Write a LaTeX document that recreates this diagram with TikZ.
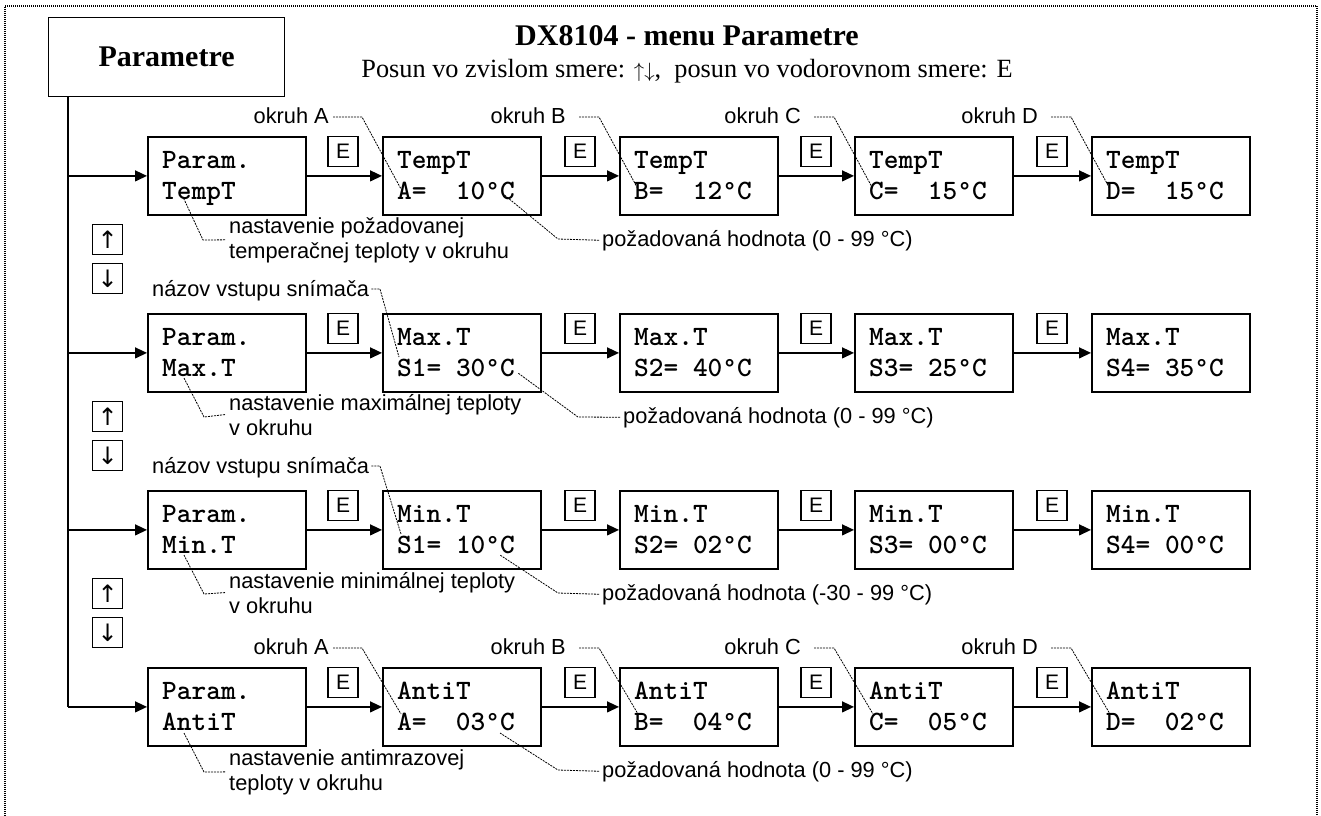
\documentclass[tikz,border=0pt]{standalone}
\usepackage{fontspec}
\setmainfont{Liberation Serif}
\setsansfont{Liberation Sans}
\newfontfamily\scrfont{lmmonolt10-bold.otf}
\newfontfamily\degfont{Liberation Mono}[BoldFont={Liberation Mono Bold}]
\newfontfamily\arrfont{DejaVu Sans}
\newcommand\dg{{\degfont\bfseries\fontsize{24.5}{30}\selectfont °}}
\usetikzlibrary{arrows.meta,calc}
\newcommand\scrbox[5]{%
  \node[scr] (#1) at (#2,#3) {};
  \node[scrtxt] (#1a) at ($(#1.north west)+(15,32)$) {#4};
  \node[scrtxt] (#1b) at ($(#1.north west)+(15,63)$) {#5};
}
\begin{document}
\begin{tikzpicture}[x=1pt,y=-1pt,
  scr/.style={draw,line width=1.8pt,minimum width=158pt,minimum height=78pt,inner sep=0pt,anchor=north west},
  scrtxt/.style={anchor=base west,inner sep=0pt,font=\scrfont\fontsize{28}{30}\selectfont},
  key/.style={draw,line width=1.2pt,minimum size=30pt,inner sep=0pt,font=\sffamily\fontsize{21}{24}\selectfont},
  arrkey/.style={key,font=\arrfont\fontsize{24}{26}\selectfont},
  conn/.style={line width=1.3pt,-{Triangle[length=12pt,width=11pt]}},
  ann/.style={inner sep=0pt,font=\sffamily\fontsize{21.8}{25}\selectfont},
  lead/.style={line width=0.8pt,dash pattern=on 2pt off 1pt},
]
\useasboundingbox (0,0) rectangle (1321,815);
% outer dotted frame
\draw[line width=1.6pt,dash pattern=on 1pt off 1pt] (5,840) -- (5,6) -- (1317,6) -- (1317,840);

% header
\node[draw,line width=1.2pt,minimum width=236pt,minimum height=79pt,anchor=north west,inner sep=0pt,
      font=\rmfamily\bfseries\fontsize{30}{34}\selectfont] (param) at (48,17) {Parametre};
\node[anchor=base,inner sep=0pt,font=\rmfamily\bfseries\fontsize{30}{34}\selectfont] (title) at (687,45) {DX8104 - menu Parametre};
\node[anchor=base,inner sep=0pt,font=\rmfamily\fontsize{26.3}{30}\selectfont] (sub) at (687,77) {Posun vo zvislom smere: {\fontsize{22}{24}\selectfont$\uparrow\downarrow$},\ \ posun vo vodorovnom smere: E};

% screens
\scrbox{b11}{147}{136}{Param.}{TempT}
\scrbox{b12}{382}{136}{TempT}{A=\ \ 10\dg C}
\scrbox{b13}{619}{136}{TempT}{B=\ \ 12\dg C}
\scrbox{b14}{854}{136}{TempT}{C=\ \ 15\dg C}
\scrbox{b15}{1091}{136}{TempT}{D=\ \ 15\dg C}

\scrbox{b21}{147}{313}{Param.}{Max.T}
\scrbox{b22}{382}{313}{Max.T}{S1= 30\dg C}
\scrbox{b23}{619}{313}{Max.T}{S2= 40\dg C}
\scrbox{b24}{854}{313}{Max.T}{S3= 25\dg C}
\scrbox{b25}{1091}{313}{Max.T}{S4= 35\dg C}

\scrbox{b31}{147}{490}{Param.}{Min.T}
\scrbox{b32}{382}{490}{Min.T}{S1= 10\dg C}
\scrbox{b33}{619}{490}{Min.T}{S2= 02\dg C}
\scrbox{b34}{854}{490}{Min.T}{S3= 00\dg C}
\scrbox{b35}{1091}{490}{Min.T}{S4= 00\dg C}

\scrbox{b41}{147}{667}{Param.}{AntiT}
\scrbox{b42}{382}{667}{AntiT}{A=\ \ 03\dg C}
\scrbox{b43}{619}{667}{AntiT}{B=\ \ 04\dg C}
\scrbox{b44}{854}{667}{AntiT}{C=\ \ 05\dg C}
\scrbox{b45}{1091}{667}{AntiT}{D=\ \ 02\dg C}

% E keys and arrows between screens
\foreach \r/\t in {1/136,2/313,3/490,4/667}{
  \foreach \k/\n/\xe in {1/2/343,2/3/580,3/4/816,4/5/1052}{
    \node[key,anchor=north] (e\r\k) at (\xe,\t) {E};
    \draw[conn] (b\r\k.east) -- (b\r\n.west);
  }
}

% trunk from Parametre
\coordinate (trunk) at ($(param.south west)+(20,0)$);
\draw[line width=1.5pt] (trunk) -- (trunk |- b41.west);
\draw[conn] (trunk |- b41.west) -- (b41.west);
\draw[conn] (trunk |- b11.west) -- (b11.west);
\draw[conn] (trunk |- b21.west) -- (b21.west);
\draw[conn] (trunk |- b31.west) -- (b31.west);

% up/down keys
\node[arrkey,anchor=north west] (u1) at (92,224) {↑};
\node[arrkey,anchor=north west] (d1) at (92,263) {↓};
\node[arrkey,anchor=north west] (u2) at (92,401) {↑};
\node[arrkey,anchor=north west] (d2) at (92,440) {↓};
\node[arrkey,anchor=north west] (u3) at (92,578) {↑};
\node[arrkey,anchor=north west] (d3) at (92,617) {↓};

% okruh labels, rows 1 and 4
\foreach \r/\t/\dy in {1/136/53,4/667/47}{
  \foreach \k/\x/\L/\g in {2/382/A/4,3/619/B/13,4/854/C/13,5/1091/D/13}{
    \node[ann,anchor=base east] (ok\r\k) at (\x-53,\t-13) {okruh \L};
    \draw[lead] ($(ok\r\k.base east)+(\g,-6)$) -- (\x-20,\t-19) -- (\x+19,\t+\dy);
  }
}

% row 1 annotations
\node[ann,anchor=base west,align=left] (n1) at (229,258) {nastavenie požadovanej\\temperačnej teploty v okruhu};
\draw[lead] ($(n1.west)+(-4,0)$) -- (203,240) -- (183,197);
\node[ann,anchor=base west] (p1) at (602,246) {požadovaná hodnota (0 - 99 °C)};
\draw[lead] ($(p1.west)+(-3,0)$) -- (558,239) -- (502,193);

% row 2 annotations
\node[ann,anchor=base west] (s2) at (152,296) {názov vstupu snímača};
\draw[lead] ($(s2.base east)+(2,-7)$) -- (380,289) -- (399,357);
\node[ann,anchor=base west,align=left] (n2) at (229,435) {nastavenie maximálnej teploty\\v okruhu};
\draw[lead] ($(n2.west)+(-4,0)$) -- (204,417) -- (184,378);
\node[ann,anchor=base west] (p2) at (623,423) {požadovaná hodnota (0 - 99 °C)};
\draw[lead] ($(p2.west)+(-3,0)$) -- (578,417) -- (518,373);

% row 3 annotations
\node[ann,anchor=base west] (s3) at (152,473) {názov vstupu snímača};
\draw[lead] ($(s3.base east)+(2,-7)$) -- (380,466) -- (401,534);
\node[ann,anchor=base west,align=left] (n3) at (229,613) {nastavenie minimálnej teploty\\v okruhu};
\draw[lead] ($(n3.west)+(-4,0)$) -- (204,594) -- (184,555);
\node[ann,anchor=base west] (p3) at (602,600) {požadovaná hodnota (-30 - 99 °C)};
\draw[lead] ($(p3.west)+(-3,0)$) -- (558,593) -- (500,555);

% row 4 annotations
\node[ann,anchor=base west,align=left] (n4) at (229,790) {nastavenie antimrazovej\\teploty v okruhu};
\draw[lead] ($(n4.west)+(-4,0)$) -- (204,772) -- (184,733);
\node[ann,anchor=base west] (p4) at (602,777) {požadovaná hodnota (0 - 99 °C)};
\draw[lead] ($(p4.west)+(-3,0)$) -- (558,770) -- (500,733);
\end{tikzpicture}
\end{document}
